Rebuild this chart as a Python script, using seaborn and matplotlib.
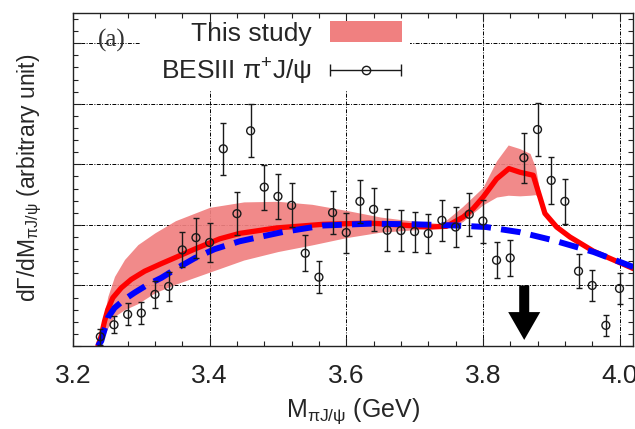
import numpy as np
import pandas as pd
import matplotlib
matplotlib.use("Agg")
import matplotlib.pyplot as plt
from matplotlib.patches import Patch, FancyArrow, Rectangle
from matplotlib.legend_handler import HandlerErrorbar
from matplotlib.ticker import MultipleLocator
import seaborn as sns

# ---------------- data ----------------
# BESIII pi+ J/psi data points
data_x = [3.24, 3.26, 3.28, 3.30, 3.32, 3.34, 3.36, 3.38, 3.40, 3.42,
          3.44, 3.46, 3.48, 3.50, 3.52, 3.54, 3.56, 3.58, 3.60, 3.62,
          3.64, 3.66, 3.68, 3.70, 3.72, 3.74, 3.76, 3.78, 3.80, 3.82,
          3.84, 3.86, 3.88, 3.90, 3.92, 3.94, 3.96, 3.98, 4.00]
data_y = [0.153, 0.351, 0.522, 0.544, 0.852, 0.984, 1.587, 1.79, 1.71, 3.257,
          2.186, 3.554, 2.624, 2.471, 2.323, 1.532, 1.137, 2.203, 1.873, 2.389,
          2.257, 1.911, 1.906, 1.89, 1.857, 2.076, 1.965, 2.175, 2.064, 1.417,
          1.455, 3.109, 3.575, 2.735, 2.389, 1.236, 1.0, 0.341, 0.95]
data_err = [0.13, 0.14, 0.18, 0.18, 0.225, 0.245, 0.29, 0.33, 0.32, 0.425,
            0.35, 0.44, 0.37, 0.375, 0.365, 0.30, 0.26, 0.355, 0.33, 0.355,
            0.36, 0.345, 0.34, 0.33, 0.325, 0.335, 0.33, 0.35, 0.355, 0.30,
            0.30, 0.41, 0.445, 0.39, 0.37, 0.285, 0.25, 0.17, 0.25]

# This study: central curve (red)
fit_x = [3.2365, 3.2413, 3.2462, 3.251, 3.2583, 3.2706, 3.2853, 3.3048, 3.3292, 3.3487,
         3.378, 3.4147, 3.444, 3.498, 3.566, 3.634, 3.678, 3.7224, 3.7468, 3.7711,
         3.7858, 3.8004, 3.8201, 3.8381, 3.8542, 3.8737, 3.8835, 3.8908, 3.908, 3.9275,
         3.962, 4.02]
fit_y = [0.0, 0.165, 0.41, 0.605, 0.796, 0.96, 1.10, 1.235, 1.36, 1.455,
         1.60, 1.77, 1.86, 1.95, 2.01, 2.03, 2.00, 1.965, 1.977, 2.13,
         2.27, 2.46, 2.76, 2.93, 2.87, 2.82, 2.46, 2.19, 1.965, 1.80,
         1.565, 1.28]

# This study: uncertainty band
band_x = [3.2365, 3.2462, 3.251, 3.2608, 3.2755, 3.295, 3.32, 3.35, 3.40, 3.45,
          3.50, 3.55, 3.60, 3.65, 3.70, 3.74, 3.77, 3.80, 3.82, 3.837,
          3.854, 3.869, 3.877, 3.885]
band_lo = [0.0, 0.17, 0.30, 0.49, 0.60, 0.70, 0.88, 1.02, 1.22, 1.42,
           1.56, 1.67, 1.79, 1.88, 1.92, 1.95, 2.05, 2.33, 2.46, 2.49,
           2.48, 2.49, 2.50, 2.40]
band_hi = [0.0, 0.55, 0.82, 1.15, 1.43, 1.675, 1.87, 2.07, 2.29, 2.38,
           2.39, 2.34, 2.24, 2.13, 2.06, 2.02, 2.30, 2.62, 3.06, 3.32,
           3.26, 3.18, 2.95, 2.45]

# comparison curve (blue dashed)
cmp_x = [3.2365, 3.2413, 3.2462, 3.251, 3.2608, 3.2755, 3.29, 3.3096, 3.3292, 3.35,
         3.378, 3.4073, 3.444, 3.507, 3.566, 3.634, 3.70, 3.761, 3.805, 3.854,
         3.903, 3.962, 4.02]
cmp_y = [0.0, 0.08, 0.275, 0.466, 0.63, 0.77, 0.88, 1.016, 1.125, 1.27,
         1.45, 1.60, 1.73, 1.883, 1.99, 2.02, 2.01, 1.99, 1.965, 1.88,
         1.746, 1.553, 1.306]

arrow_x = 3.8605

x_ticks = [3.2, 3.4, 3.6, 3.8, 4.0]
x_ticklabels = ["3.2", "3.4", "3.6", "3.8", "4.0"]

# ---------------- style ----------------
sns.set_theme(style="ticks")
plt.rcParams["font.family"] = ["Liberation Sans", "DejaVu Sans"]
plt.rcParams["mathtext.fontset"] = "custom"
plt.rcParams["mathtext.rm"] = "Liberation Sans"
plt.rcParams["mathtext.it"] = "Liberation Sans:italic"
plt.rcParams["mathtext.bf"] = "Liberation Sans:bold"

fig = plt.figure(figsize=(6.35, 4.29), dpi=100)
ax = fig.add_axes([73 / 635, 1 - 346 / 429, (632.7 - 73) / 635, (346 - 13) / 429])

band_color = "#F08080"

# band
ax.fill_between(band_x, band_lo, band_hi, color=band_color, lw=0, alpha=0.92, zorder=1)

# curves
df_fit = pd.DataFrame({"x": fit_x, "y": fit_y})
df_cmp = pd.DataFrame({"x": cmp_x, "y": cmp_y})
sns.lineplot(data=df_fit, x="x", y="y", ax=ax, color="#FF0000", lw=3.8,
             estimator=None, sort=False, zorder=2)
sns.lineplot(data=df_cmp, x="x", y="y", ax=ax, color="#0000FF", lw=4.3,
             estimator=None, sort=False, zorder=3)
ax.lines[-1].set_dashes((3.3, 1.7))
ax.lines[-1].set_dash_capstyle("butt")

# data points
df_pts = pd.DataFrame({"x": data_x, "y": data_y, "e": data_err})
ax.errorbar(df_pts["x"], df_pts["y"], yerr=df_pts["e"], fmt="none",
            ecolor="#1a1a1a", elinewidth=1.0, capsize=2.2, capthick=1.0, zorder=4)
sns.scatterplot(data=df_pts, x="x", y="y", ax=ax, marker="o", s=32,
                facecolor="none", edgecolor="#1a1a1a", linewidth=1.0, zorder=5)

# arrow
ax.add_patch(FancyArrow(arrow_x, 1.0, 0, -0.9, width=10 / 682.5, head_width=32 / 682.5,
                        head_length=0.46, length_includes_head=True,
                        color="black", lw=0, zorder=6))

# axes
ax.set_xlim(3.2, 4.0193)
ax.set_ylim(0, 5.5)
ax.set_xticks(x_ticks)
ax.set_xticklabels(x_ticklabels)
ax.xaxis.set_minor_locator(MultipleLocator(0.04))
ax.set_yticks([0, 1, 2, 3, 4, 5])
ax.set_yticklabels([])
ax.yaxis.set_minor_locator(MultipleLocator(0.2))
ax.tick_params(which="both", direction="in", top=True, right=True, colors="#222222")
ax.tick_params(which="major", length=6, width=0.8, labelsize=19, pad=13)
ax.tick_params(which="minor", length=3.5, width=0.8)
for s in ax.spines.values():
    s.set_color("#222222")
    s.set_linewidth(1.0)
ax.set_axisbelow(True)
ax.grid(True, which="major", color="black", lw=0.7, linestyle=(0, (4, 1.5, 1, 1.5)))

ax.set_xlabel("M$_{\\mathrm{πJ/ψ}}$ (GeV)", fontsize=18, labelpad=6)
ax.set_ylabel("dΓ/dM$_{\\mathrm{πJ/ψ}}$ (arbitrary unit)", fontsize=16.5)
ax.yaxis.set_label_coords(-0.052, 0.505)

ax.text(3.256, 5.05, "(a)", fontsize=18, family="Liberation Serif", color="#333333",
        ha="center", va="center", zorder=3)

# white backdrop behind the legend (hides grid, keeps spine and ticks)
ax.add_patch(Rectangle((0.1197, 0.769), 0.602 - 0.1197, 0.973 - 0.769,
                       transform=ax.transAxes, facecolor="white", edgecolor="none",
                       zorder=0.8))

# legend
dummy = ax.errorbar([np.nan], [np.nan], xerr=[0.1], fmt="o", ms=6, mfc="none",
                    mec="#1a1a1a", mew=1.0, ecolor="#1a1a1a", elinewidth=1.0,
                    capsize=4, color="#1a1a1a")
band_handle = Patch(facecolor=band_color, edgecolor="none")
leg = ax.legend([band_handle, dummy], ["This study", "BESIII π$^{+}$J/ψ"],
                handler_map={type(dummy): HandlerErrorbar(xerr_size=1.36)},
                loc="upper right", bbox_to_anchor=(410 / 635, 1 - 13 / 429),
                bbox_transform=fig.transFigure, borderaxespad=0,
                markerfirst=False, fontsize=19,
                handlelength=2.73, handleheight=0.8, handletextpad=0.68,
                labelspacing=0.42, borderpad=0.32, frameon=False, numpoints=1)
leg.set_zorder(10)

fig.savefig("out.png", dpi=100)
